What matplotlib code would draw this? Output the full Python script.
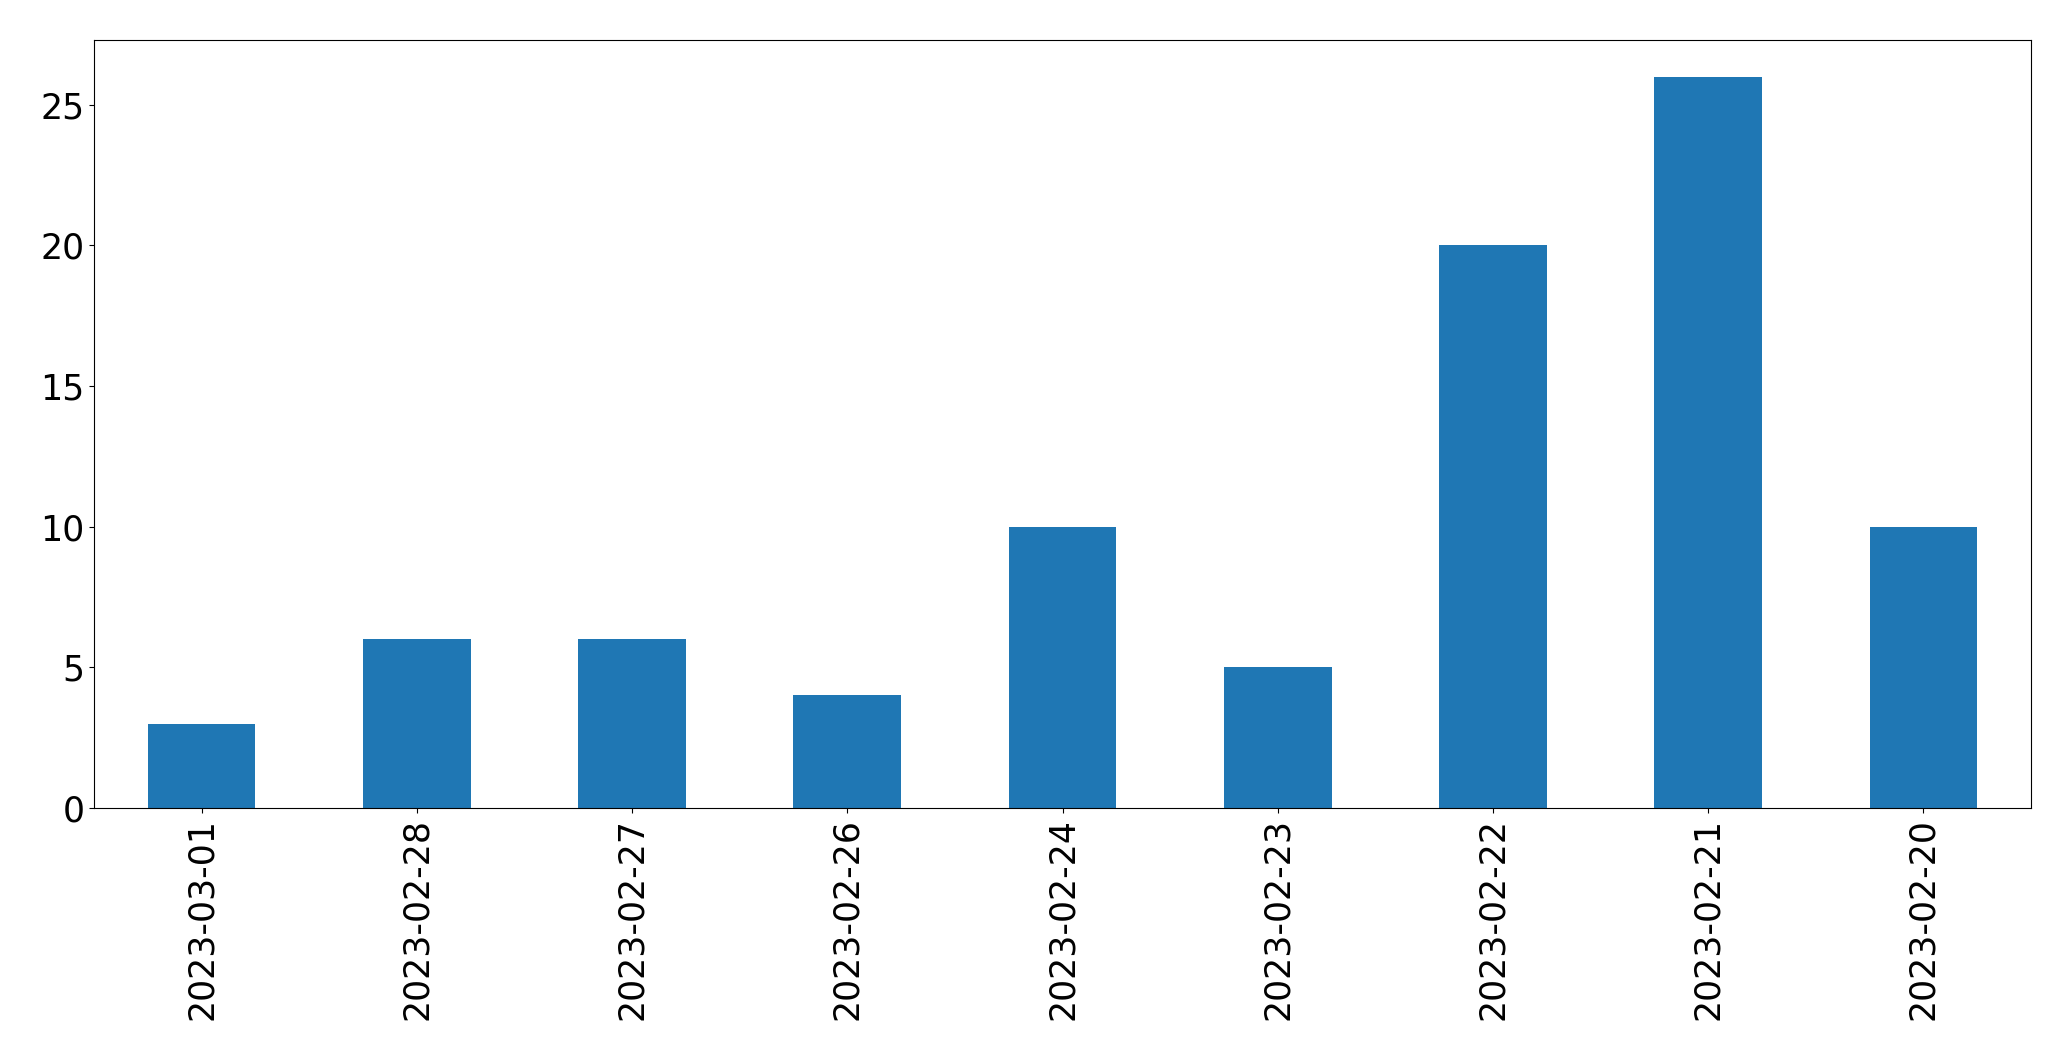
import numpy as np
import matplotlib.pyplot as plt

# counts per date
dates = ['2023-03-01', '2023-02-28', '2023-02-27', '2023-02-26', '2023-02-24',
         '2023-02-23', '2023-02-22', '2023-02-21', '2023-02-20']
counts = [3, 6, 6, 4, 10, 5, 20, 26, 10]

x_pos = np.arange(len(dates))

fig, ax = plt.subplots(figsize=(20.71, 10.61), dpi=100)
ax.bar(x_pos, counts, width=0.5, color='#1f77b4')
ax.set_xticks(x_pos)
ax.set_xticklabels(dates, rotation=90)
ax.set_xlim(-0.5, len(dates) - 0.5)
ax.tick_params(labelsize=25)

plt.subplots_adjust(left=0.0454, right=0.9807, bottom=0.2385, top=0.9623)
plt.savefig('out.png')
